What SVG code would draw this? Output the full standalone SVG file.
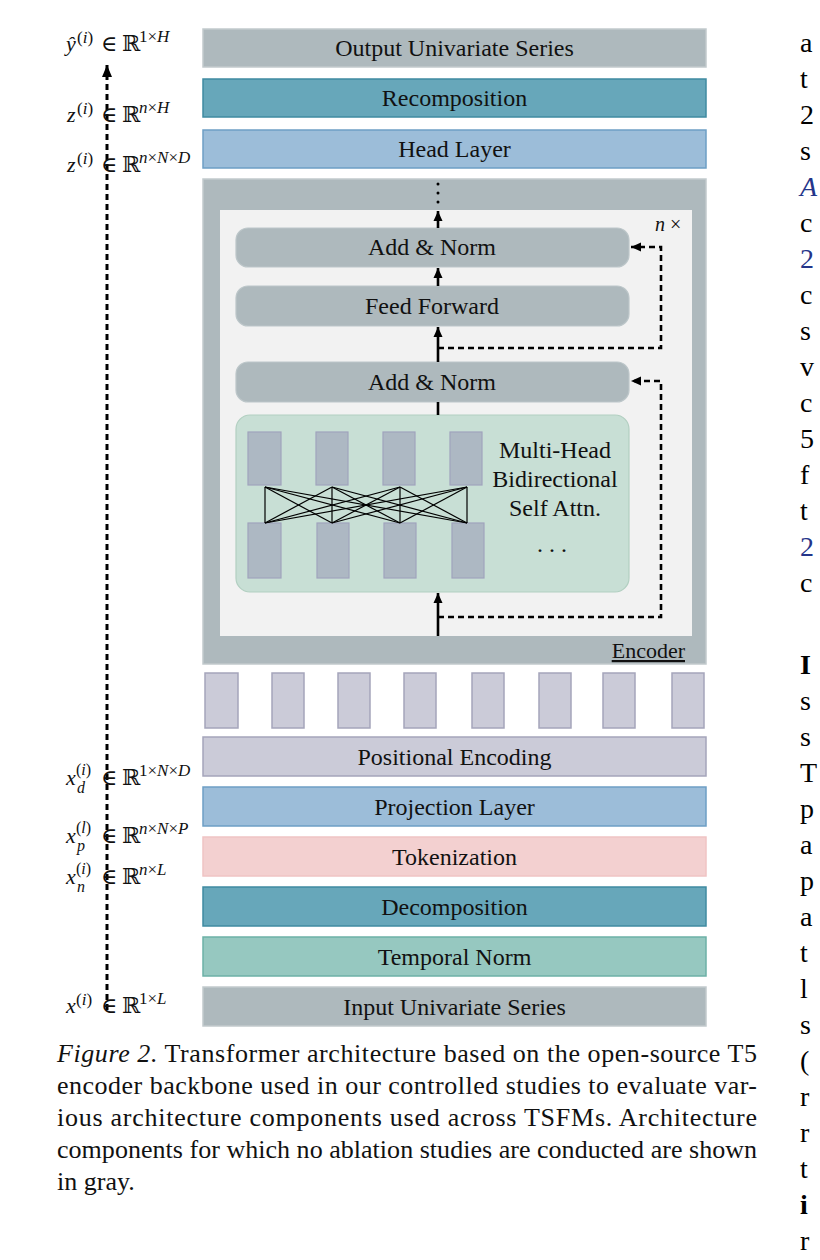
<svg xmlns="http://www.w3.org/2000/svg" width="820" height="1260" viewBox="0 0 820 1260">
<defs>
<marker id="ah" markerUnits="userSpaceOnUse" markerWidth="10" markerHeight="10" refX="10" refY="5" orient="auto"><path d="M0,0.5 L10,5 L0,9.5 z" fill="#000"/></marker>
<marker id="ah2" markerUnits="userSpaceOnUse" markerWidth="12" markerHeight="11" refX="12" refY="5.5" orient="auto"><path d="M0,0.5 L12,5.5 L0,10.5 z" fill="#000"/></marker>
<style>
text{font-family:"Liberation Serif","DejaVu Serif",serif;fill:#111}
.lbl{font-size:24px;text-anchor:middle}
.gray{fill:#aeb9bd;stroke:#c2cacd;stroke-width:1.5}
.teal{fill:#67a7ba;stroke:#3f8ba1;stroke-width:1.5}
.blue{fill:#9cbdd9;stroke:#6d9fc5;stroke-width:1.5}
.lav{fill:#cbcbd8;stroke:#a5a5bb;stroke-width:1.5}
.pink{fill:#f3d0d0;stroke:#f0c4c4;stroke-width:1.5}
.mint{fill:#96c8c0;stroke:#6cb1a7;stroke-width:1.5}
.blk{fill:#aeb9bd;stroke:#bcc6c9;stroke-width:1.2}
.head{fill:#adb8c3;stroke:#a0a3bd;stroke-width:1.2}
.att{fill:#c8dfd5;stroke:#b2cfc1;stroke-width:1.2}
.solid{stroke:#000;stroke-width:2.6;fill:none}
.dash{stroke:#000;stroke-width:2.6;fill:none;stroke-dasharray:6 4}
.mi{font-style:italic}
.m{font-size:22px}
.s{font-size:17px}
.ss{font-size:16px}
.body{font-size:28px;fill:#000}
.cite{fill:#24358a}
.cap{font-size:26px;fill:#111}
</style>
</defs>
<rect width="820" height="1260" fill="#fff"/>

<g id="output"><rect class="gray" x="203" y="29" width="503" height="38"/><text class="lbl" x="454.5" y="56">Output Univariate Series</text></g>
<g id="recomposition"><rect class="teal" x="203" y="79" width="503" height="38"/><text class="lbl" x="454.5" y="106">Recomposition</text></g>
<g id="head-layer"><rect class="blue" x="203" y="130" width="503" height="38"/><text class="lbl" x="454.5" y="157">Head Layer</text></g>

<g id="encoder">
<rect class="gray" x="203" y="179" width="503" height="485"/>
<rect x="220" y="210" width="472" height="426" fill="#f2f2f2"/>
<text x="685" y="658" font-size="22" text-anchor="end" text-decoration="underline">Encoder</text>
<text x="655" y="231" font-size="20"><tspan class="mi">n</tspan> ×</text>
</g>

<g id="add-norm-2"><rect class="blk" x="236" y="228" width="393" height="39" rx="12"/><text class="lbl" x="432" y="255">Add &amp; Norm</text></g>
<g id="feed-forward"><rect class="blk" x="236" y="286" width="393" height="40" rx="12"/><text class="lbl" x="432" y="314">Feed Forward</text></g>
<g id="add-norm-1"><rect class="blk" x="236" y="362" width="393" height="40" rx="12"/><text class="lbl" x="432" y="390">Add &amp; Norm</text></g>

<g id="attention">
<rect class="att" x="236" y="415" width="393" height="177" rx="14"/>
<rect class="head" x="248" y="432" width="33" height="53"/>
<rect class="head" x="316" y="432" width="32" height="53"/>
<rect class="head" x="383" y="432" width="32" height="53"/>
<rect class="head" x="450" y="432" width="32" height="53"/>
<rect class="head" x="248" y="523" width="33" height="55"/>
<rect class="head" x="317" y="523" width="32" height="55"/>
<rect class="head" x="384" y="523" width="32" height="55"/>
<rect class="head" x="452" y="523" width="32" height="55"/>
<g stroke="#000" stroke-width="1.2">
<line x1="265" y1="487" x2="265" y2="523"/><line x1="265" y1="487" x2="332" y2="523"/><line x1="265" y1="487" x2="400" y2="523"/><line x1="265" y1="487" x2="467" y2="523"/>
<line x1="332" y1="487" x2="265" y2="523"/><line x1="332" y1="487" x2="332" y2="523"/><line x1="332" y1="487" x2="400" y2="523"/><line x1="332" y1="487" x2="467" y2="523"/>
<line x1="400" y1="487" x2="265" y2="523"/><line x1="400" y1="487" x2="332" y2="523"/><line x1="400" y1="487" x2="400" y2="523"/><line x1="400" y1="487" x2="467" y2="523"/>
<line x1="467" y1="487" x2="265" y2="523"/><line x1="467" y1="487" x2="332" y2="523"/><line x1="467" y1="487" x2="400" y2="523"/><line x1="467" y1="487" x2="467" y2="523"/>
</g>
<text class="lbl" x="555" y="458">Multi-Head</text>
<text class="lbl" x="555" y="487">Bidirectional</text>
<text class="lbl" x="555" y="516">Self Attn.</text>
<text class="lbl" x="552" y="552" xml:space="preserve">. . .</text>
</g>

<g id="tokens">
<rect class="lav" x="205" y="673" width="33" height="55"/>
<rect class="lav" x="272" y="673" width="32" height="55"/>
<rect class="lav" x="338" y="673" width="32" height="55"/>
<rect class="lav" x="404" y="673" width="32" height="55"/>
<rect class="lav" x="472" y="673" width="32" height="55"/>
<rect class="lav" x="539" y="673" width="32" height="55"/>
<rect class="lav" x="603" y="673" width="32" height="55"/>
<rect class="lav" x="672" y="673" width="32" height="55"/>
</g>

<g id="positional-encoding"><rect class="lav" x="203" y="737" width="503" height="39"/><text class="lbl" x="454.5" y="765">Positional Encoding</text></g>
<g id="projection-layer"><rect class="blue" x="203" y="787" width="503" height="39"/><text class="lbl" x="454.5" y="815">Projection Layer</text></g>
<g id="tokenization"><rect class="pink" x="203" y="837" width="503" height="39"/><text class="lbl" x="454.5" y="865">Tokenization</text></g>
<g id="decomposition"><rect class="teal" x="203" y="887" width="503" height="39"/><text class="lbl" x="454.5" y="915">Decomposition</text></g>
<g id="temporal-norm"><rect class="mint" x="203" y="937" width="503" height="39"/><text class="lbl" x="454.5" y="965">Temporal Norm</text></g>
<g id="input"><rect class="gray" x="203" y="987" width="503" height="39"/><text class="lbl" x="454.5" y="1015">Input Univariate Series</text></g>

<g id="connectors">
<line x1="107" y1="1010" x2="107" y2="65" stroke="#000" stroke-width="3" stroke-dasharray="6 4" marker-end="url(#ah2)"/>
<line class="solid" x1="438" y1="636" x2="438" y2="593" marker-end="url(#ah)"/>
<line class="solid" x1="438" y1="415" x2="438" y2="402"/>
<line class="solid" x1="438" y1="362" x2="438" y2="327" marker-end="url(#ah)"/>
<line class="solid" x1="438" y1="286" x2="438" y2="268" marker-end="url(#ah)"/>
<line class="solid" x1="438" y1="228" x2="438" y2="211" marker-end="url(#ah)"/>
<line x1="438" y1="184" x2="438" y2="205" stroke="#000" stroke-width="3" stroke-linecap="round" stroke-dasharray="0 9"/>
<path class="dash" d="M438,617 H661 V381 H631" marker-end="url(#ah)"/>
<path class="dash" d="M438,348 H661 V247 H631" marker-end="url(#ah)"/>
</g>

<g id="labels">
<text class="m mi" x="66" y="51">ŷ</text><text class="s" x="77" y="43">(<tspan class="mi">i</tspan>)</text><text class="m" x="101" y="51">∈</text><text class="m" x="122" y="51">ℝ</text><text class="s" x="139" y="42">1×<tspan class="mi">H</tspan></text>
<text class="m mi" x="67" y="122">z</text><text class="s" x="77" y="114">(<tspan class="mi">i</tspan>)</text><text class="m" x="101" y="122">∈</text><text class="m" x="122" y="122">ℝ</text><text class="s" x="139" y="113"><tspan class="mi">n</tspan>×<tspan class="mi">H</tspan></text>
<text class="m mi" x="67" y="172">z</text><text class="s" x="77" y="164">(<tspan class="mi">i</tspan>)</text><text class="m" x="101" y="172">∈</text><text class="m" x="122" y="172">ℝ</text><text class="s" x="139" y="163"><tspan class="mi">n</tspan>×<tspan class="mi">N</tspan>×<tspan class="mi">D</tspan></text>
<text class="m mi" x="66" y="785">x</text><text class="ss" x="76" y="775">(<tspan class="mi">i</tspan>)</text><text class="ss mi" x="77" y="793">d</text><text class="m" x="101" y="785">∈</text><text class="m" x="122" y="785">ℝ</text><text class="s" x="139" y="776">1×<tspan class="mi">N</tspan>×<tspan class="mi">D</tspan></text>
<text class="m mi" x="66" y="843">x</text><text class="ss" x="76" y="833">(<tspan class="mi">l</tspan>)</text><text class="ss mi" x="77" y="851">p</text><text class="m" x="101" y="843">∈</text><text class="m" x="122" y="843">ℝ</text><text class="s" x="139" y="834"><tspan class="mi">n</tspan>×<tspan class="mi">N</tspan>×<tspan class="mi">P</tspan></text>
<text class="m mi" x="66" y="884">x</text><text class="ss" x="76" y="874">(<tspan class="mi">i</tspan>)</text><text class="ss mi" x="77" y="892">n</text><text class="m" x="101" y="884">∈</text><text class="m" x="122" y="884">ℝ</text><text class="s" x="139" y="875"><tspan class="mi">n</tspan>×<tspan class="mi">L</tspan></text>
<text class="m mi" x="66" y="1013">x</text><text class="s" x="76" y="1005">(<tspan class="mi">i</tspan>)</text><text class="m" x="101" y="1013">∈</text><text class="m" x="122" y="1013">ℝ</text><text class="s" x="139" y="1004">1×<tspan class="mi">L</tspan></text>
</g>

<g id="caption">
<text class="cap" x="57" y="1062" textLength="700" lengthAdjust="spacing"><tspan class="mi">Figure 2.</tspan> Transformer architecture based on the open-source T5</text>
<text class="cap" x="57" y="1094" textLength="700" lengthAdjust="spacing">encoder backbone used in our controlled studies to evaluate var-</text>
<text class="cap" x="57" y="1126" textLength="700" lengthAdjust="spacing">ious architecture components used across TSFMs.  Architecture</text>
<text class="cap" x="57" y="1158" textLength="700" lengthAdjust="spacing">components for which no ablation studies are conducted are shown</text>
<text class="cap" x="57" y="1190">in gray.</text>
</g>

<g id="page-text">
<text class="body" x="800" y="52">a</text>
<text class="body" x="800" y="88">t</text>
<text class="body" x="800" y="124">2</text>
<text class="body" x="800" y="160">s</text>
<text class="body cite mi" x="800" y="196">A</text>
<text class="body" x="800" y="232">c</text>
<text class="body cite" x="800" y="268">2</text>
<text class="body" x="800" y="304">c</text>
<text class="body" x="800" y="340">s</text>
<text class="body" x="800" y="376">v</text>
<text class="body" x="800" y="412">c</text>
<text class="body" x="800" y="448">5</text>
<text class="body" x="800" y="484">f</text>
<text class="body" x="800" y="520">t</text>
<text class="body cite" x="800" y="556">2</text>
<text class="body" x="800" y="592">c</text>
<text class="body" x="800" y="674" font-weight="bold">I</text>
<text class="body" x="800" y="710">s</text>
<text class="body" x="800" y="746">s</text>
<text class="body" x="800" y="782">T</text>
<text class="body" x="800" y="818">p</text>
<text class="body" x="800" y="854">a</text>
<text class="body" x="800" y="890">p</text>
<text class="body" x="800" y="926">a</text>
<text class="body" x="800" y="962">t</text>
<text class="body" x="800" y="998">l</text>
<text class="body" x="800" y="1034">s</text>
<text class="body" x="800" y="1070">(</text>
<text class="body" x="800" y="1106">r</text>
<text class="body" x="800" y="1142">r</text>
<text class="body" x="800" y="1178">t</text>
<text class="body" x="800" y="1214" font-weight="bold">i</text>
<text class="body" x="800" y="1250">r</text>
</g>
</svg>
